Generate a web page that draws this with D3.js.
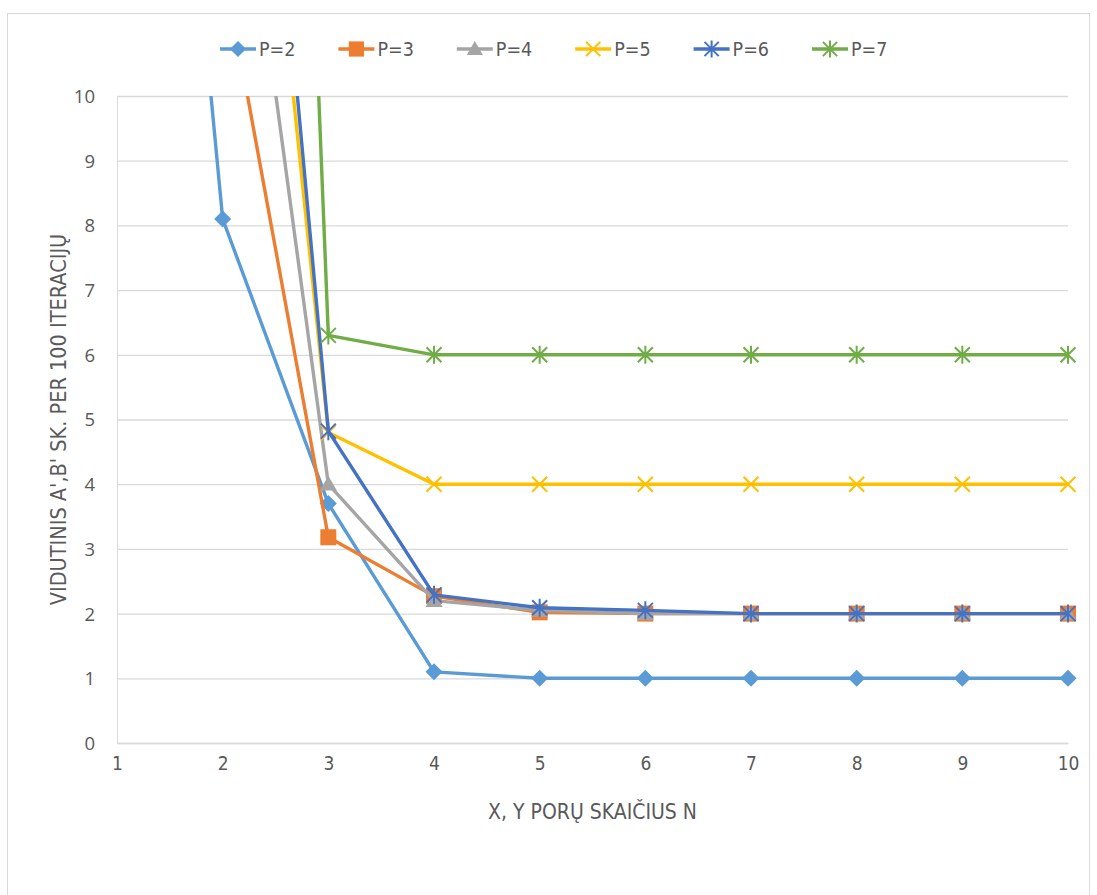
<!DOCTYPE html>
<html><head><meta charset="utf-8">
<script src="https://cdn.jsdelivr.net/npm/d3@7"></script>
<style>
body{margin:0;background:#fff;}
text{font-family:"Open Sans","Liberation Sans",sans-serif;}
</style></head>
<body>
<svg id="c" width="1097" height="895"></svg>
<script>
const xValues = [1,2,3,4,5,6,7,8,9,10];
const seriesNames = ["P=2","P=3","P=4","P=5","P=6","P=7"];
const p2 = [25.3, 8.1, 3.7, 1.1, 1.0, 1.0, 1.0, 1.0, 1.0, 1.0];
const p3 = [null, 12.1, 3.18, 2.27, 2.02, 2.0, 2.0, 2.0, 2.0, 2.0];
const p4 = [null, 16.1, 4.0, 2.2, 2.05, 2.0, 2.0, 2.0, 2.0, 2.0];
const p5 = [null, 20.5, 4.8, 4.0, 4.0, 4.0, 4.0, 4.0, 4.0, 4.0];
const p6 = [null, 22.5, 4.82, 2.29, 2.09, 2.05, 2.0, 2.0, 2.0, 2.0];
const p7 = [null, 47, 6.3, 6.0, 6.0, 6.0, 6.0, 6.0, 6.0, 6.0];
const xTicks = [1,2,3,4,5,6,7,8,9,10];
const yTicks = [0,1,2,3,4,5,6,7,8,9,10];
const colors = ["#5B9BD5","#ED7D31","#A5A5A5","#FFC000","#4472C4","#70AD47"];
const markers = ["diamond","square","triangle","x","star","star"];
const allSeries = [p2,p3,p4,p5,p6,p7];

const narrow = "'DejaVu Sans Condensed','Liberation Sans Narrow',sans-serif";
const svg = d3.select("#c");
const m = {l:117, r:1068, t:96, b:743};
svg.append("rect").attr("x",7.5).attr("y",13.5).attr("width",1082).attr("height",900)
  .attr("fill","#fff").attr("stroke","#d9d9d9").attr("stroke-width",1);

const x = d3.scaleLinear().domain([1,10]).range([m.l,m.r]);
const y = d3.scaleLinear().domain([0,10]).range([m.b,m.t]);

const yAxis = d3.axisLeft(y).tickValues(yTicks).tickSize(-(m.r-m.l)).tickFormat(d3.format("d")).tickPadding(22);
const gy = svg.append("g").attr("transform",`translate(${m.l},0)`).call(yAxis);
gy.select(".domain").attr("stroke","#d9d9d9");
gy.selectAll(".tick line").attr("stroke","#d9d9d9").attr("stroke-width",1.3);
gy.selectAll(".tick text").attr("fill","#595959").style("font-size","18.5px").attr("dy","0.35em");

const xAxis = d3.axisBottom(x).tickValues(xTicks).tickSize(0).tickFormat(d3.format("d")).tickPadding(14);
const gx = svg.append("g").attr("transform",`translate(0,${m.b})`).call(xAxis);
gx.select(".domain").attr("stroke","#d9d9d9").attr("stroke-width",1.3);
gx.selectAll(".tick text").attr("fill","#595959").style("font-size","19px").style("font-family",narrow);

svg.append("text").attr("x",(m.l+m.r)/2).attr("y",819).attr("text-anchor","middle")
  .attr("fill","#595959").style("font-size","21px").style("font-family",narrow)
  .text("X, Y PORŲ SKAIČIUS N");
svg.append("text").attr("transform",`translate(66,${(m.t+m.b)/2}) rotate(-90)`).attr("text-anchor","middle")
  .attr("fill","#595959").style("font-size","21.5px").style("font-family",narrow)
  .text("VIDUTINIS A',B' SK. PER 100 ITERACIJŲ");

svg.append("clipPath").attr("id","clip").append("rect")
  .attr("x",m.l-10).attr("y",m.t).attr("width",m.r-m.l+20).attr("height",m.b-m.t+10);

function drawMarker(g, type, cx, cy, color, s){
  s = s||1;
  if(type==="diamond"){
    const r=8.5*s;
    g.append("path").attr("d",`M${cx},${cy-r}L${cx+r},${cy}L${cx},${cy+r}L${cx-r},${cy}Z`).attr("fill",color);
  } else if(type==="square"){
    const r=8*s;
    g.append("rect").attr("x",cx-r).attr("y",cy-r).attr("width",2*r).attr("height",2*r).attr("fill",color);
  } else if(type==="triangle"){
    const r=8.5*s;
    g.append("path").attr("d",`M${cx},${cy-r}L${cx+r},${cy+r*0.75}L${cx-r},${cy+r*0.75}Z`).attr("fill",color);
  } else if(type==="x"){
    const r=7.5*s;
    g.append("path").attr("d",`M${cx-r},${cy-r}L${cx+r},${cy+r}M${cx+r},${cy-r}L${cx-r},${cy+r}`)
      .attr("stroke",color).attr("stroke-width",2).attr("fill","none");
  } else if(type==="star"){
    const r=7.5*s;
    g.append("path").attr("d",`M${cx-r},${cy-r}L${cx+r},${cy+r}M${cx+r},${cy-r}L${cx-r},${cy+r}M${cx},${cy-r*1.2}L${cx},${cy+r*1.2}`)
      .attr("stroke",color).attr("stroke-width",2).attr("fill","none");
  }
}

const plot = svg.append("g").attr("clip-path","url(#clip)");
const line = d3.line().defined(d=>d[1]!=null).x(d=>x(d[0])).y(d=>y(d[1]));
allSeries.forEach((vals,i)=>{
  const pts = xValues.map((xv,j)=>[xv, vals[j]]);
  plot.append("path").datum(pts).attr("d",line).attr("fill","none")
    .attr("stroke",colors[i]).attr("stroke-width",3.4).attr("stroke-linejoin","round");
  const mg = plot.append("g");
  pts.forEach(p=>{ if(p[1]!=null && p[1]<=10) drawMarker(mg, markers[i], x(p[0]), y(p[1]), colors[i]); });
});

const legX0 = 220, legStep = 118.4, legY = 49;
seriesNames.forEach((n,i)=>{
  const lx = legX0 + i*legStep;
  const g = svg.append("g");
  g.append("line").attr("x1",lx).attr("x2",lx+36).attr("y1",legY).attr("y2",legY)
    .attr("stroke",colors[i]).attr("stroke-width",3.4);
  drawMarker(g, markers[i], lx+18, legY, colors[i], 0.95);
  g.append("text").attr("x",lx+39).attr("y",legY).attr("dy","0.35em").attr("fill","#595959")
    .style("font-size","19.5px").style("font-family",narrow).text(n);
});
</script>
</body></html>
